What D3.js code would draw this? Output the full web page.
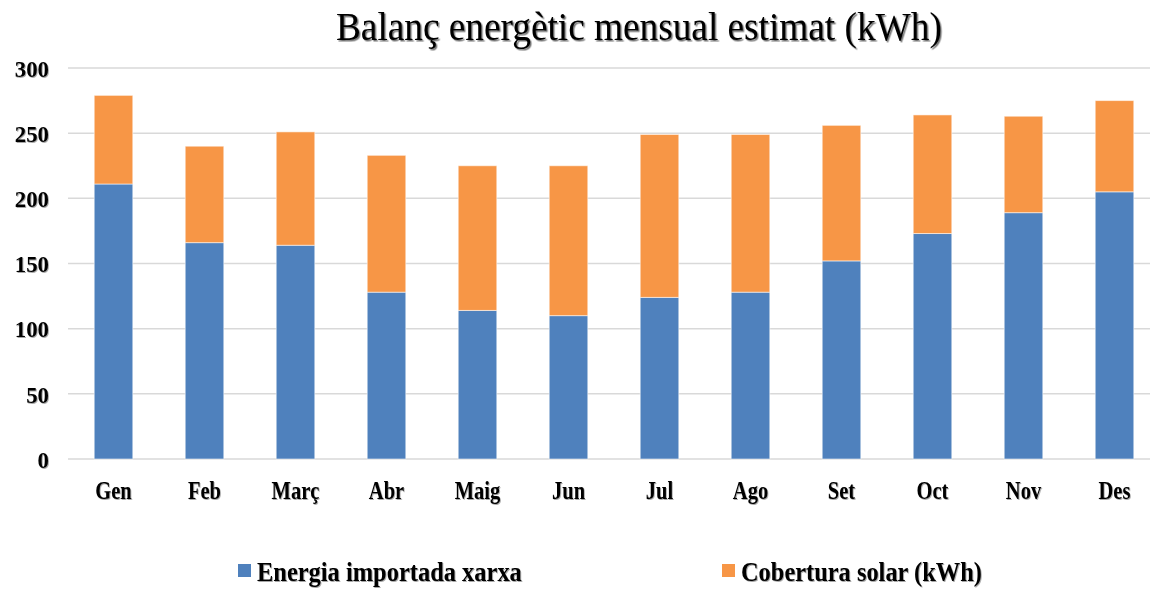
<!DOCTYPE html>
<html>
<head>
<meta charset="utf-8">
<script src="https://cdn.jsdelivr.net/npm/d3@7/dist/d3.min.js"></script>
<style>
  html, body { margin: 0; padding: 0; background: #fff; }
  svg text { font-family: "Liberation Serif", "Times New Roman", serif; font-weight: bold; fill: #000; }
</style>
</head>
<body>
<svg id="chart" width="1150" height="590"></svg>
<script>
// Monthly energy balance (kWh)
const months = ["Gen", "Feb", "Març", "Abr", "Maig", "Jun", "Jul", "Ago", "Set", "Oct", "Nov", "Des"];
const gridImport = [211, 166, 164, 128, 114, 110, 124, 128, 152, 173, 189, 205];
const solarCover = [68, 74, 87, 105, 111, 115, 125, 121, 104, 91, 74, 70];
const seriesNames = ["Energia importada xarxa", "Cobertura solar (kWh)"];
const seriesColors = ["#4F81BD", "#F79646"];
const yTicks = [0, 50, 100, 150, 200, 250, 300];
const titleText = "Balanç energètic mensual estimat (kWh)";

const svg = d3.select("#chart");

// soft shadows used on the text
const defs = svg.append("defs");
const f = defs.append("filter").attr("id", "tshadow").attr("x", "-5%").attr("y", "-20%").attr("width", "110%").attr("height", "140%");
f.append("feDropShadow").attr("dx", 1).attr("dy", 1).attr("stdDeviation", 0.6).attr("flood-color", "#000").attr("flood-opacity", 0.35);
const f2 = defs.append("filter").attr("id", "titleshadow").attr("x", "-5%").attr("y", "-20%").attr("width", "110%").attr("height", "140%");
f2.append("feDropShadow").attr("dx", 1.5).attr("dy", 1.5).attr("stdDeviation", 0.7).attr("flood-color", "#000").attr("flood-opacity", 0.55);

const plot = { left: 68, right: 1160, top: 68, bottom: 459 };

const x = d3.scaleBand()
  .domain(months)
  .range([plot.left, plot.right])
  .paddingInner(0.576)
  .paddingOuter(0.288);

const y = d3.scaleLinear()
  .domain([0, 300])
  .range([plot.bottom, plot.top]);

// horizontal gridlines
svg.append("g")
  .selectAll("line")
  .data(yTicks)
  .join("line")
  .attr("x1", plot.left)
  .attr("x2", plot.right)
  .attr("y1", d => y(d))
  .attr("y2", d => y(d))
  .attr("stroke", "#D9D9D9")
  .attr("stroke-width", 1.5);

// stacked bars
const rows = months.map((m, i) => ({ month: m, imp: gridImport[i], sol: solarCover[i] }));
const stack = d3.stack().keys(["imp", "sol"])(rows);

svg.append("g")
  .selectAll("g")
  .data(stack)
  .join("g")
  .attr("fill", (d, i) => seriesColors[i])
  .selectAll("rect")
  .data(d => d)
  .join("rect")
  .attr("x", d => x(d.data.month))
  .attr("width", x.bandwidth())
  .attr("y", d => y(d[1]))
  .attr("height", d => y(d[0]) - y(d[1]))
  .attr("stroke", "#ffffff")
  .attr("stroke-opacity", 0.55)
  .attr("stroke-width", 1);

// y axis labels
const yAxis = svg.append("g")
  .attr("transform", `translate(${plot.left},0)`)
  .call(d3.axisLeft(y).tickValues(yTicks).tickSize(0).tickPadding(20));
yAxis.select(".domain").remove();
yAxis.selectAll("text")
  .attr("font-size", 24)
  .attr("dy", "0.34em")
  .attr("font-family", null)
  .attr("filter", "url(#tshadow)")
  .attr("transform", "scale(0.95,1)");

// x axis labels, slightly condensed
const xAxis = svg.append("g")
  .attr("transform", `translate(0,${plot.bottom})`)
  .call(d3.axisBottom(x).tickSize(0).tickPadding(22));
xAxis.select(".domain").remove();
xAxis.selectAll("text")
  .attr("font-size", 25)
  .attr("dy", "0.71em")
  .attr("font-family", null)
  .attr("filter", "url(#tshadow)")
  .attr("transform", "scale(0.82,1)");

// fit a text element horizontally into a given width
function fitWidth(sel, targetW, anchorX) {
  const w = sel.node().getComputedTextLength();
  const s = targetW / w;
  sel.attr("x", anchorX / s).attr("transform", `scale(${s},1)`);
}

// title
const title = svg.append("text")
  .attr("y", 40)
  .attr("font-size", 39)
  .attr("filter", "url(#titleshadow)")
  .style("font-weight", "normal")
  .text(titleText);
fitWidth(title, 606, 336);

// legend
const legendX = [238, 722];
const legendTextX = [257, 741];
const legendW = [265, 241];
const lg = svg.append("g");
seriesNames.forEach((name, i) => {
  lg.append("rect")
    .attr("x", legendX[i])
    .attr("y", 564)
    .attr("width", 13)
    .attr("height", 13)
    .attr("fill", seriesColors[i]);
  const t = lg.append("text")
    .attr("y", 581)
    .attr("font-size", 27)
    .attr("filter", "url(#tshadow)")
    .text(name);
  fitWidth(t, legendW[i], legendTextX[i]);
});
</script>
</body>
</html>
